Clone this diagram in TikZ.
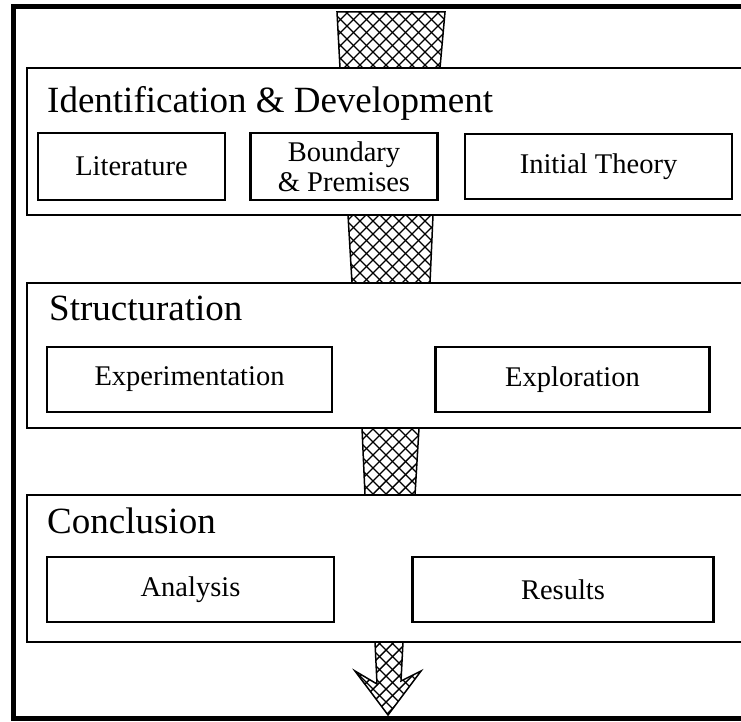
\documentclass[tikz,border=0pt]{standalone}
\usepackage{fontspec}
\setmainfont{Liberation Serif}
\usetikzlibrary{positioning}

\newcommand{\crosslines}{%
    \foreach \k in {-420,-407,...,1200} {
        \draw[hatch] (\k,0) -- ++(722,722);
        \draw[hatch] (\k,0) -- ++(-722,722);
    }}

\begin{document}
\begin{tikzpicture}[x=1pt, y=-1pt]
    \tikzset{stage/.style={line width=2.5pt},
             title/.style={anchor=base west, inner sep=0pt, font=\fontsize{37}{40}\selectfont},
             part/.style={draw, line width=2.5pt, align=center, inner sep=0pt, font=\fontsize{28.5}{30}\selectfont},
             hatch/.style={line width=1.4pt},
             flow/.style={line width=1.5pt, line join=miter}}
    \clip (0,0) rectangle (741,722);

    % hatched arrows between the stages
    \foreach \xa/\xb/\xc/\xd/\ya/\yb in {337/445/340/440/12/68, 348/433/352/430/215/283, 362/419/365/415/428/495} {
        \begin{scope}
            \clip (\xa,\ya) -- (\xb,\ya) -- (\xd,\yb) -- (\xc,\yb) -- cycle;
            \crosslines
        \end{scope}
        \draw[flow] (\xa,\ya) -- (\xb,\ya) -- (\xd,\yb) -- (\xc,\yb) -- cycle;
    }
    \begin{scope}
        \clip (375,642) -- (377,684) -- (355,671) -- (388,715) -- (421,671) -- (401,681) -- (403,642) -- cycle;
        \crosslines
    \end{scope}
    \draw[flow] (375,642) -- (377,684) -- (355,671) -- (388,715) -- (421,671) -- (401,681) -- (403,642);

    % frame and stages
    \draw[line width=5pt] (760,7) -- (13,7) -- (13,718) -- (760,718);
    \draw[stage] (760,68) -- (27,68) -- (27,215) -- (760,215);
    \draw[stage] (760,283) -- (27,283) -- (27,428) -- (760,428);
    \draw[stage] (760,495) -- (27,495) -- (27,642) -- (760,642);

    \node[title] (identtitle)  at (47,113) {Identification \& Development};
    \node[title] (structtitle) at (49,320) {Structuration};
    \node[title] (concltitle)  at (47,533) {Conclusion};

    \node[part, minimum width=187pt, minimum height=67pt] (literature) at (131.5,166.5) {Literature};
    \node[part, minimum width=187pt, minimum height=67pt, right=23pt of literature] (boundary) {Boundary\\\& Premises};
    \node[part, minimum width=267pt, minimum height=65pt, right=25pt of boundary] (theory) {Initial Theory};

    \node[part, minimum width=285pt, minimum height=65pt] (experiment) at (189.5,379.5) {Experimentation};
    \node[part, minimum width=274pt, minimum height=65pt, right=101pt of experiment] (exploration) {Exploration};

    \node[part, minimum width=287pt, minimum height=65pt] (analysis) at (190.5,589.5) {Analysis};
    \node[part, minimum width=301pt, minimum height=65pt, right=76pt of analysis] (results) {Results};
\end{tikzpicture}
\end{document}
